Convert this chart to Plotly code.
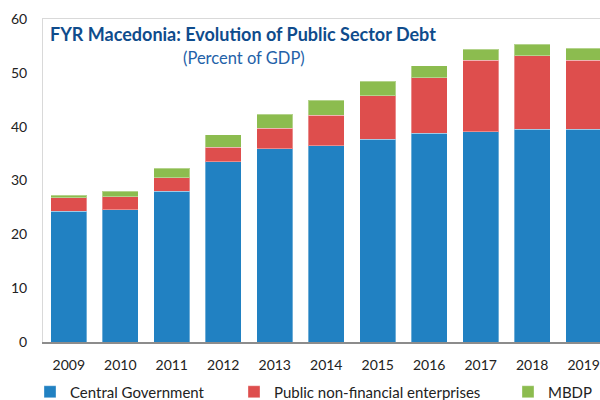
import plotly.graph_objects as go

years = ["2009", "2010", "2011", "2012", "2013", "2014", "2015", "2016", "2017", "2018", "2019"]
central_gov = [24.3, 24.6, 28.0, 33.5, 35.9, 36.5, 37.7, 38.8, 39.1, 39.5, 39.5]
public_nfe = [2.5, 2.4, 2.5, 2.7, 3.85, 5.6, 8.05, 10.3, 13.2, 13.7, 12.8]
mbdp = [0.5, 1.05, 1.75, 2.3, 2.55, 2.85, 2.65, 2.2, 2.1, 2.1, 2.3]

series_names = ["Central Government", "Public non-financial enterprises", "MBDP"]
colors = ["#2181C2", "#DE4E4D", "#8CBC4F"]
FONT = "Lato"

fig = go.Figure()
for i, (name, vals) in enumerate(zip(series_names, [central_gov, public_nfe, mbdp])):
    fig.add_trace(go.Bar(
        x=years, y=vals, name=name,
        marker=dict(color=colors[i], line=dict(color="rgba(255,255,255,0.35)", width=1)),
        legend=["legend", "legend2", "legend3"][i],
    ))

W, H = 600, 400
L, R, T, B = 43, 0, 19, 58
pw, ph = W - L - R, H - T - B

def px(xp):
    return (xp - L) / pw

def py(yp):
    return (H - B - yp) / ph

leg_common = dict(orientation="h", yanchor="middle", y=py(392), xanchor="left",
                  font=dict(family=FONT, size=15, color="#222222"),
                  bgcolor="rgba(0,0,0,0)", itemwidth=30, tracegroupgap=0)

fig.update_layout(
    width=W, height=H,
    margin=dict(l=L, r=R, t=T, b=B, pad=0, autoexpand=False),
    paper_bgcolor="white", plot_bgcolor="white",
    barmode="stack", bargap=0.3,
    font=dict(family=FONT, size=14, color="#222222"),
    showlegend=True,
    legend=dict(x=px(30), **leg_common),
    legend2=dict(x=px(234), **leg_common),
    legend3=dict(x=px(508), **leg_common),
    xaxis=dict(type="category", range=[-0.5, 10.316], showgrid=False,
               showline=True, linecolor="#8C8C8C", linewidth=1.5,
               ticks="", ticklabelstandoff=9, automargin=False,
               tickfont=dict(family=FONT, size=14, color="#222222")),
    xaxis2=dict(overlaying="x", side="top", showline=True, linecolor="#D9D9D9",
                linewidth=1, showticklabels=False, ticks="", showgrid=False,
                matches="x", type="category", automargin=False),
    yaxis=dict(range=[0, 60], dtick=10, showgrid=False, zeroline=False,
               showline=True, linecolor="#D9D9D9", linewidth=1,
               ticks="", ticklabelstandoff=12, automargin=False,
               tickfont=dict(family=FONT, size=14, color="#222222")),
    annotations=[
        dict(text="<b>FYR Macedonia: Evolution of Public Sector Debt</b>",
             xref="paper", yref="paper", x=px(48), y=py(34),
             xanchor="left", yanchor="middle", showarrow=False,
             font=dict(family=FONT, size=18, color="#0F4C8C")),
        dict(text="(Percent of GDP)",
             xref="paper", yref="paper", x=px(244), y=py(58),
             xanchor="center", yanchor="middle", showarrow=False,
             font=dict(family=FONT, size=16.5, color="#2361A8")),
    ],
)
# invisible trace to activate top axis line
fig.add_trace(go.Bar(x=[years[0]], y=[0], xaxis="x2", showlegend=False,
                     hoverinfo="skip", marker=dict(color="rgba(0,0,0,0)")))

fig.write_html("out.html")
